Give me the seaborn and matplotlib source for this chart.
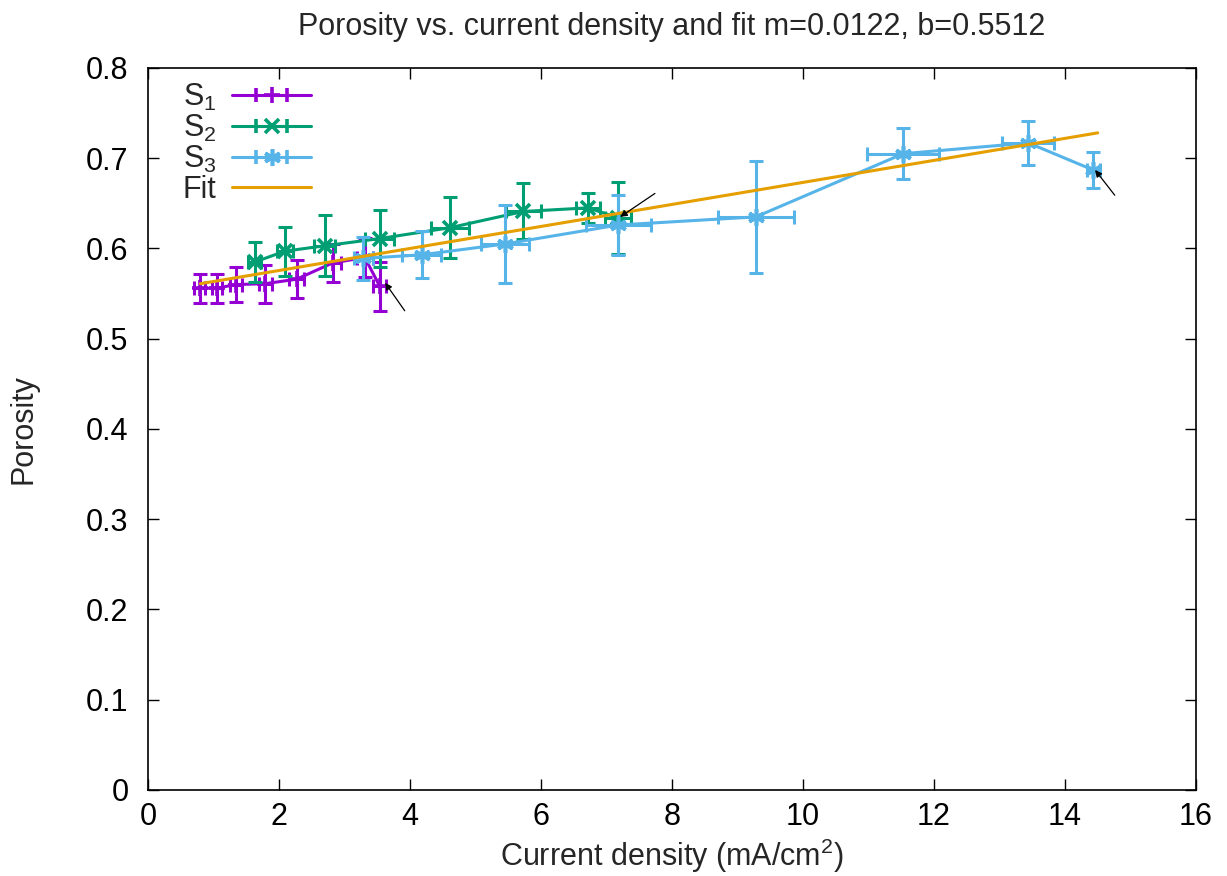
import numpy as np
import pandas as pd
import matplotlib
matplotlib.use("Agg")
import matplotlib.pyplot as plt
import seaborn as sns

# Measured series: current density (mA/cm^2) vs porosity, with x/y uncertainties
s1_x = [0.79, 1.05, 1.34, 1.79, 2.27, 2.82, 3.31, 3.54]
s1_y = [0.556, 0.556, 0.560, 0.561, 0.566, 0.584, 0.590, 0.558]
s1_xerr = [0.08, 0.08, 0.09, 0.10, 0.11, 0.12, 0.12, 0.10]
s1_yerr = [0.016, 0.016, 0.019, 0.021, 0.021, 0.021, 0.022, 0.027]

s2_x = [1.63, 2.09, 2.70, 3.54, 4.61, 5.73, 6.72, 7.18]
s2_y = [0.585, 0.597, 0.603, 0.611, 0.623, 0.641, 0.645, 0.634]
s2_xerr = [0.10, 0.12, 0.16, 0.22, 0.29, 0.27, 0.18, 0.20]
s2_yerr = [0.022, 0.027, 0.034, 0.032, 0.034, 0.031, 0.017, 0.040]

s3_x = [3.29, 4.18, 5.45, 7.18, 9.28, 11.53, 13.44, 14.43]
s3_y = [0.589, 0.593, 0.605, 0.626, 0.635, 0.705, 0.717, 0.687]
s3_xerr = [0.15, 0.30, 0.36, 0.50, 0.58, 0.55, 0.40, 0.10]
s3_yerr = [0.024, 0.026, 0.043, 0.033, 0.062, 0.028, 0.024, 0.020]

# Linear fit parameters
fit_m = 0.0122
fit_b = 0.5512
fit_x = [0.8, 14.5]

labels = ["S$_1$", "S$_2$", "S$_3$", "Fit"]
colors = ["#9400D3", "#009E73", "#56B4E9", "#E69F00"]
markers = ["+", "x", (6, 2, 0)]
marker_sizes = [12, 10, 12]

x_ticks = [0, 2, 4, 6, 8, 10, 12, 14, 16]
y_ticks = [0, 0.1, 0.2, 0.3, 0.4, 0.5, 0.6, 0.7, 0.8]

sns.set_theme(style="ticks")
plt.rcParams["font.family"] = ["Liberation Sans", "DejaVu Sans"]
plt.rcParams["mathtext.fontset"] = "custom"
plt.rcParams["mathtext.rm"] = "Liberation Sans"
plt.rcParams["mathtext.it"] = "Liberation Sans"

FS = 22

fig = plt.figure(figsize=(12.27, 8.76), dpi=100)
ax = fig.add_axes([0.1206, 0.0982, 0.8541, 0.8242])

series = [
    (s1_x, s1_y, s1_xerr, s1_yerr),
    (s2_x, s2_y, s2_xerr, s2_yerr),
    (s3_x, s3_y, s3_xerr, s3_yerr),
]

lw = 2.2
handles = []
for (xs, ys, xe, ye), col, mk, ms in zip(series, colors, markers, marker_sizes):
    df = pd.DataFrame({"x": xs, "y": ys})
    sns.lineplot(data=df, x="x", y="y", sort=False, estimator=None,
                 color=col, linewidth=lw, marker=mk, markersize=ms,
                 markeredgewidth=2.6, markeredgecolor=col, ax=ax, legend=False)
    ax.errorbar(xs, ys, xerr=xe, yerr=ye, fmt="none", ecolor=col,
                elinewidth=lw, capsize=5, capthick=lw)
    proxy = ax.errorbar([np.nan], [np.nan], xerr=[1.0], color=col, linewidth=lw,
                        marker=mk, markersize=ms, markeredgewidth=2.6,
                        capsize=5, capthick=lw)
    handles.append(proxy)

fit_df = pd.DataFrame({"x": fit_x, "y": [fit_m * v + fit_b for v in fit_x]})
sns.lineplot(data=fit_df, x="x", y="y", color=colors[3], linewidth=lw,
             ax=ax, legend=False)
handles.append(plt.Line2D([], [], color=colors[3], linewidth=lw))

# Arrows marking the last point of each series
arrow_props = dict(arrowstyle="-|>", color="black", lw=0.9,
                   mutation_scale=10, shrinkA=0, shrinkB=0)
ax.annotate("", xy=(3.62, 0.562), xytext=(3.92, 0.531), arrowprops=arrow_props)
ax.annotate("", xy=(7.21, 0.635), xytext=(7.74, 0.661), arrowprops=arrow_props)
ax.annotate("", xy=(14.46, 0.687), xytext=(14.76, 0.659), arrowprops=arrow_props)

ax.set_xlim(0, 16)
ax.set_ylim(0, 0.8)
ax.set_xticks(x_ticks)
ax.set_yticks(y_ticks)
ax.set_xticklabels([str(t) for t in x_ticks])
ax.set_yticklabels(["0"] + [f"{t:.1f}" for t in y_ticks[1:]])
ax.tick_params(direction="in", length=8, width=1, top=True, right=True,
               labelsize=FS, colors="black")
ax.tick_params(axis="x", pad=9)
ax.tick_params(axis="y", pad=14)
for sp in ax.spines.values():
    sp.set_color("black")
    sp.set_linewidth(1.2)

ax.set_xlabel("Current density (mA/cm$^2$)", fontsize=FS, labelpad=3)
ax.set_ylabel("Porosity", fontsize=FS, labelpad=34)
ax.set_title("Porosity vs. current density and fit m=0.0122, b=0.5512",
             fontsize=FS, pad=24)

ax.legend(handles, labels, loc="upper left", bbox_to_anchor=(0.01, 1.015),
          frameon=False, markerfirst=False, fontsize=FS, handlelength=2.6,
          labelspacing=0.0, handletextpad=0.5, borderpad=0.3)

fig.savefig("out.png", dpi=100)
